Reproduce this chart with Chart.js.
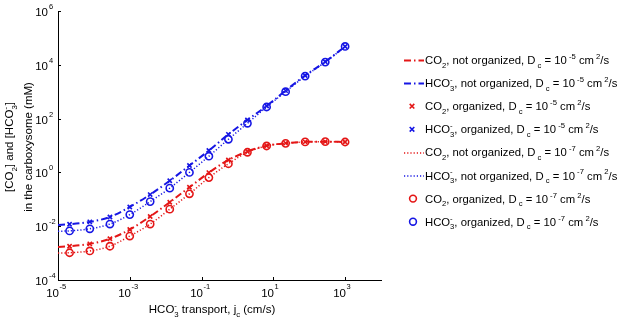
<!DOCTYPE html>
<html>
<head>
<meta charset="utf-8">
<script src="https://cdn.jsdelivr.net/npm/chart.js@4.4.1/dist/chart.umd.min.js"></script>
<style>
  body { margin: 0; background: #fff; }
  #wrap { width: 617px; height: 321px; }
</style>
</head>
<body>
<div id="wrap"><canvas id="grafico" width="617" height="321"></canvas></div>
<script>
// HCO3- transport (cm/s): x das curvas (começam em 1e-5) e dos marcadores
const xLinha = [1e-5, 2.1e-5, 7.7e-5, 2.8e-4, 1.0e-3, 3.7e-3, 1.3e-2, 4.6e-2, 0.16, 0.56, 1.9, 6.5, 22, 77, 280, 1000];
const xMarca = [2.1e-5, 7.7e-5, 2.8e-4, 1.0e-3, 3.7e-3, 1.3e-2, 4.6e-2, 0.16, 0.56, 1.9, 6.5, 22, 77, 280, 1000];

// concentrações (mM) - não organizado, Dc = 1e-5
const co2NaoOrgRapido  = [0.0017, 0.0018, 0.0022, 0.0034, 0.0075, 0.023, 0.078, 0.28, 0.98, 2.9, 6.0, 9.8, 12.2, 13.7, 13.9, 13.5];
const hco3NaoOrgRapido = [0.0112, 0.0118, 0.0145, 0.022, 0.052, 0.15, 0.49, 1.8, 6.5, 26, 89, 295, 1100, 4000, 13000, 48000];
// organizado, Dc = 1e-5
const co2OrgRapido  = [0.0018, 0.0022, 0.0034, 0.0075, 0.023, 0.078, 0.28, 0.98, 2.9, 6.0, 9.8, 12.2, 13.7, 13.9, 13.5];
const hco3OrgRapido = [0.0118, 0.0145, 0.022, 0.052, 0.15, 0.49, 1.8, 6.5, 26, 89, 295, 1100, 4000, 13000, 48000];
// não organizado, Dc = 1e-7
const co2NaoOrgLento  = [0.0010, 0.00103, 0.0012, 0.0018, 0.0043, 0.012, 0.043, 0.16, 0.64, 2.1, 5.6, 9.6, 12.0, 13.6, 13.9, 13.5];
const hco3NaoOrgLento = [0.0065, 0.0067, 0.008, 0.012, 0.027, 0.082, 0.26, 1.0, 4.0, 17, 67, 270, 1000, 3800, 12600, 48000];
// organizado, Dc = 1e-7
const co2OrgLento  = [0.00103, 0.0012, 0.0018, 0.0043, 0.012, 0.043, 0.16, 0.64, 2.1, 5.6, 9.6, 12.0, 13.6, 13.9, 13.5];
const hco3OrgLento = [0.0067, 0.008, 0.012, 0.027, 0.082, 0.26, 1.0, 4.0, 17, 67, 270, 1000, 3800, 12600, 48000];

// expoentes dos ticks (10^n)
const xTicksExp = [-5, -3, -1, 1, 3];
const yTicksExp = [-4, -2, 0, 2, 4, 6];

const FONTE = '"Liberation Sans", Arial, sans-serif';
const VERMELHO = 'rgb(228,22,22)';
const AZUL = 'rgb(22,22,228)';

const HCO3 = ['HCO', { sup: '-', sub: '3' }];
const legendas = [
    ['CO', { sub: '2' }, ', not organized, D', { sub: ' c' }, ' = 10', { sup: ' -5' }, ' cm', { sup: ' 2' }, '/s'],
    [...HCO3, ', not organized, D', { sub: ' c' }, ' = 10', { sup: ' -5' }, ' cm', { sup: ' 2' }, '/s'],
    ['CO', { sub: '2' }, ', organized, D', { sub: ' c' }, ' = 10', { sup: ' -5' }, ' cm', { sup: ' 2' }, '/s'],
    [...HCO3, ', organized, D', { sub: ' c' }, ' = 10', { sup: ' -5' }, ' cm', { sup: ' 2' }, '/s'],
    ['CO', { sub: '2' }, ', not organized, D', { sub: ' c' }, ' = 10', { sup: ' -7' }, ' cm', { sup: ' 2' }, '/s'],
    [...HCO3, ', not organized, D', { sub: ' c' }, ' = 10', { sup: ' -7' }, ' cm', { sup: ' 2' }, '/s'],
    ['CO', { sub: '2' }, ', organized, D', { sub: ' c' }, ' = 10', { sup: ' -7' }, ' cm', { sup: ' 2' }, '/s'],
    [...HCO3, ', organized, D', { sub: ' c' }, ' = 10', { sup: ' -7' }, ' cm', { sup: ' 2' }, '/s']
];

function pares(xs, ys) {
    return ys.map((y, i) => ({ x: xs[i], y: y }));
}

// mede/desenha texto com subscrito e sobrescrito
function larguraRica(ctx, partes, tam) {
    let w = 0;
    partes.forEach(p => {
        if (typeof p === 'string') {
            ctx.font = tam + 'px ' + FONTE;
            w += ctx.measureText(p).width;
        } else {
            ctx.font = (tam * 0.68) + 'px ' + FONTE;
            w += Math.max(p.sup ? ctx.measureText(p.sup).width : 0, p.sub ? ctx.measureText(p.sub).width : 0);
        }
    });
    return w;
}

function desenhaRico(ctx, partes, x, y, tam, alinhar) {
    if (alinhar === 'center') x -= larguraRica(ctx, partes, tam) / 2;
    ctx.textAlign = 'left';
    ctx.textBaseline = 'alphabetic';
    partes.forEach(p => {
        if (typeof p === 'string') {
            ctx.font = tam + 'px ' + FONTE;
            ctx.fillText(p, x, y);
            x += ctx.measureText(p).width;
        } else {
            ctx.font = (tam * 0.68) + 'px ' + FONTE;
            let w = 0;
            if (p.sup) {
                ctx.fillText(p.sup, x, y - tam * 0.45);
                w = ctx.measureText(p.sup).width;
            }
            if (p.sub) {
                ctx.fillText(p.sub, x, y + tam * 0.32);
                w = Math.max(w, ctx.measureText(p.sub).width);
            }
            x += w;
        }
    });
}

const pluginTextos = {
    id: 'textos',
    afterDraw(chart) {
        const ctx = chart.ctx;
        const sx = chart.scales.x;
        const sy = chart.scales.y;
        const area = chart.chartArea;
        ctx.save();
        ctx.fillStyle = '#000';
        ctx.strokeStyle = '#000';
        ctx.lineWidth = 1;

        // ticks para dentro + rótulos 10^n
        xTicksExp.forEach(e => {
            const px = Math.round(sx.getPixelForValue(Math.pow(10, e))) + 0.5;
            ctx.beginPath();
            ctx.moveTo(px, area.bottom);
            ctx.lineTo(px, area.bottom - 3);
            ctx.stroke();
            ctx.font = '11.5px ' + FONTE;
            ctx.textAlign = 'right';
            ctx.fillText('10', px + 0.5, 297);
            ctx.font = '7.5px ' + FONTE;
            ctx.textAlign = 'left';
            ctx.fillText(String(e), px + 1, 289);
        });
        yTicksExp.forEach(e => {
            const py = Math.round(sy.getPixelForValue(Math.pow(10, e))) + 0.5;
            ctx.beginPath();
            ctx.moveTo(area.left, py);
            ctx.lineTo(area.left + 3, py);
            ctx.stroke();
            ctx.font = '11.5px ' + FONTE;
            ctx.textAlign = 'right';
            ctx.fillText('10', 48, py + 4);
            ctx.font = '7.5px ' + FONTE;
            ctx.textAlign = 'left';
            ctx.fillText(String(e), 49, py - 3);
        });

        // título do eixo x
        desenhaRico(ctx, ['HCO', { sup: '-', sub: '3' }, ' transport, j', { sub: 'c' }, ' (cm/s)'], 212, 313, 11.5, 'center');

        // título do eixo y (rotacionado)
        ctx.save();
        ctx.translate(0, 147);
        ctx.rotate(-Math.PI / 2);
        desenhaRico(ctx, ['[CO', { sub: '2' }, '] and [HCO', { sup: '-', sub: '3' }, ']'], 0, 13, 11.5, 'center');
        desenhaRico(ctx, ['in the carboxysome (mM)'], 0, 32, 11.5, 'center');
        ctx.restore();

        // legenda
        chart.data.datasets.forEach((ds, i) => {
            const y = 60 + i * 23.1;
            ctx.save();
            ctx.strokeStyle = ds.borderColor;
            if (ds.showLine) {
                ctx.lineWidth = ds.borderWidth;
                ctx.setLineDash(ds.borderDash || []);
                ctx.beginPath();
                ctx.moveTo(404, y + 0.5);
                ctx.lineTo(424, y + 0.5);
                ctx.stroke();
            } else if (ds.pointStyle === 'crossRot') {
                ctx.lineWidth = 1.6;
                const r = 2.3;
                ctx.beginPath();
                ctx.moveTo(412 - r, y - r); ctx.lineTo(412 + r, y + r);
                ctx.moveTo(412 - r, y + r); ctx.lineTo(412 + r, y - r);
                ctx.stroke();
            } else {
                ctx.lineWidth = 1.6;
                ctx.beginPath();
                ctx.arc(413, y, 3.4, 0, Math.PI * 2);
                ctx.stroke();
            }
            ctx.restore();
            ctx.fillStyle = '#000';
            desenhaRico(ctx, legendas[i], 425, y + 4, 11.3);
        });
        ctx.restore();
    }
};

function serieLinha(dados, cor, tracejado) {
    return {
        data: pares(xLinha, dados),
        showLine: true,
        borderColor: cor,
        backgroundColor: cor,
        borderWidth: tracejado.length > 2 ? 2 : 1.5,
        borderDash: tracejado,
        pointRadius: 0,
        cubicInterpolationMode: 'monotone'
    };
}

function serieMarca(dados, cor, estilo) {
    return {
        data: pares(xMarca, dados),
        showLine: false,
        borderColor: cor,
        backgroundColor: 'rgba(0,0,0,0)',
        pointStyle: estilo,
        pointRadius: estilo === 'circle' ? 3.6 : 3,
        pointBorderWidth: 1.6
    };
}

const traco = [7, 3, 1.5, 3];
const ponto = [1.2, 2];

new Chart(document.getElementById('grafico'), {
    type: 'scatter',
    data: {
        datasets: [
            serieLinha(co2NaoOrgRapido, VERMELHO, traco),
            serieLinha(hco3NaoOrgRapido, AZUL, traco),
            serieMarca(co2OrgRapido, VERMELHO, 'crossRot'),
            serieMarca(hco3OrgRapido, AZUL, 'crossRot'),
            serieLinha(co2NaoOrgLento, VERMELHO, ponto),
            serieLinha(hco3NaoOrgLento, AZUL, ponto),
            serieMarca(co2OrgLento, VERMELHO, 'circle'),
            serieMarca(hco3OrgLento, AZUL, 'circle')
        ]
    },
    options: {
        responsive: false,
        animation: false,
        events: [],
        layout: { padding: { left: 0, right: 236, top: 11, bottom: 0 } },
        plugins: { legend: { display: false }, tooltip: { enabled: false } },
        scales: {
            x: {
                type: 'logarithmic',
                min: 1e-5,
                max: 1e4,
                ticks: { display: false },
                grid: { display: true, drawOnChartArea: false, drawTicks: false },
                border: { display: true, color: '#000', width: 1 },
                afterFit: scale => { scale.height = 41; }
            },
            y: {
                type: 'logarithmic',
                min: 1e-4,
                max: 1e6,
                ticks: { display: false },
                grid: { display: true, drawOnChartArea: false, drawTicks: false },
                border: { display: true, color: '#000', width: 1 },
                afterFit: scale => { scale.width = 58; }
            }
        }
    },
    plugins: [pluginTextos]
});
</script>
</body>
</html>
